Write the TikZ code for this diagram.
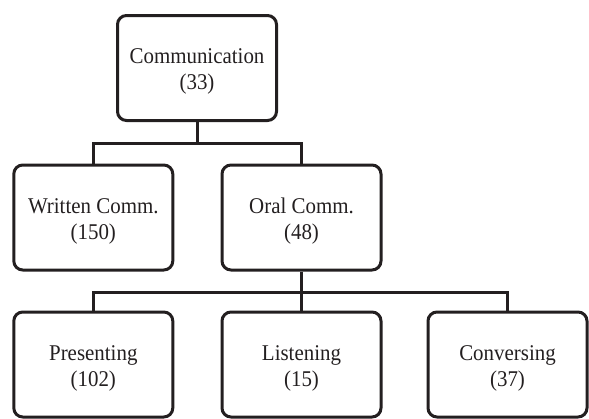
\documentclass[tikz,border=0pt]{standalone}
\usepackage{fontspec}
\setmainfont{Liberation Serif}[FakeStretch=0.93]
\definecolor{ink}{HTML}{231F20}
\newcommand{\boxlabel}[2]{\rule{0pt}{22.5pt}#1\\#2}
\begin{document}
\begin{tikzpicture}[x=1pt,y=-1pt,
  box/.style={draw=ink, line width=3pt, rounded corners=9pt, minimum width=159pt, minimum height=105pt, align=center, font=\fontsize{22.5}{26}\selectfont, text=ink, inner sep=0pt},
  link/.style={draw=ink, line width=3pt}]
\useasboundingbox (0,0) rectangle (589,418);
\node[box] (top) at (197,68) {\boxlabel{Communication}{(33)}};
\node[box] (written) at (93.3,217.5) {\boxlabel{Written Comm.}{(150)}};
\node[box] (oral) at (301.5,217.5) {\boxlabel{Oral Comm.}{(48)}};
\node[box] (pres) at (93.3,364.5) {\boxlabel{Presenting}{(102)}};
\node[box] (list) at (301.5,364.5) {\boxlabel{Listening}{(15)}};
\node[box] (conv) at (507.5,364.5) {\boxlabel{Conversing}{(37)}};
\coordinate (j1) at (197,143);
\coordinate (j2) at (301.5,292);
\draw[link] (top.south) -- (top.south |- j1);
\draw[link] (written.north) |- (oral.north |- j1) -- (oral.north);
\draw[link] (oral.south) -- (oral.south |- j2);
\draw[link] (pres.north) |- (conv.north |- j2) -- (conv.north);
\draw[link] (list.north) -- (list.north |- j2);
\end{tikzpicture}
\end{document}
